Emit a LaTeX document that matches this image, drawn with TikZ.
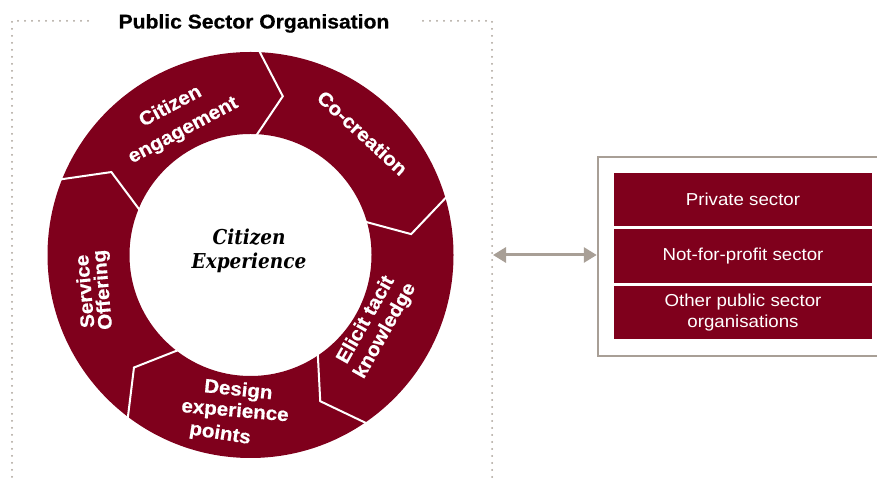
\documentclass[tikz,border=0pt]{standalone}
\usepackage{fontspec}
\setsansfont{Liberation Sans}[FakeStretch=1.08]
\newfontfamily\heavysans{Liberation Sans}[FakeStretch=1.06, BoldFeatures={FakeBold=0.6}]
\newfontfamily\cxserif{DejaVu Serif}[FakeStretch=0.9]
\usetikzlibrary{arrows.meta}
\definecolor{pwcred}{RGB}{127,0,28}
\definecolor{taupe}{RGB}{168,159,150}
\begin{document}
\begin{tikzpicture}[x=1pt,y=1pt,
  ringtxt/.style={text=white, font=\heavysans\bfseries\fontsize{19.4}{22}\selectfont, inner sep=0pt, align=center},
  sepline/.style={draw=white, line width=2pt, line join=miter},
  frameline/.style={draw=taupe, line width=2pt, line cap=round, dash pattern=on 0pt off 7pt},
  sectorbox/.style={fill=pwcred, text=white, minimum width=258pt, minimum height=53pt, inner sep=0pt,
    font=\sffamily\fontsize{17.3}{20.5}\selectfont, align=center},
  partnerbox/.style={draw=taupe, line width=2.5pt, minimum width=292pt, minimum height=199pt, inner sep=0pt},
  twoway/.style={draw=taupe, line width=3pt, {Triangle[length=13pt,width=15pt]}-{Triangle[length=13pt,width=15pt]}},
  titletxt/.style={font=\heavysans\bfseries\fontsize{19.9}{22}\selectfont, text=black, inner sep=0pt},
  centertxt/.style={font=\cxserif\bfseries\itshape\fontsize{20.5}{24}\selectfont, align=center, inner sep=0pt}
]
\path[use as bounding box] (0,0) rectangle (877,478);

% dotted frame of the public sector organisation
\draw[frameline] (88,457) -- (12,457) -- (12,-4);
\draw[frameline] (423,457) -- (492,457) -- (492,-4);
\node[titletxt, anchor=base] (title) at (254,449.5) {Public Sector Organisation};

% ring
\begin{scope}[shift={(250.5pt,223pt)}]
  \fill[pwcred, even odd rule] (0,0) circle (203pt) (0,0) circle (121pt);
  \foreach \s in {88,16.9,-55,-126.5,158.7}{
    \draw[sepline] (\s:207pt) -- ({\s-9.5}:162pt) -- (\s:117pt);
  }
\end{scope}

% ring labels
\node[ringtxt, rotate=28, font=\heavysans\bfseries\fontsize{19.4}{27}\selectfont] (ce) at (177,359.3) {Citizen\\engagement};
\node[ringtxt, rotate=-42.6] (co) at (362.5,345) {Co-creation};
\node[ringtxt, rotate=60.5, font=\heavysans\bfseries\fontsize{19.4}{22}\selectfont] (el) at (375.8,152.5) {Elicit tacit\\knowledge};
\node[ringtxt, rotate=-6] (de1) at (238.3,87.2) {Design};
\node[ringtxt, rotate=-5] (de2) at (235,66.3) {experience};
\node[ringtxt, rotate=-9] (de3) at (220,43.8) {points};
\node[ringtxt, rotate=95, font=\heavysans\bfseries\fontsize{19.4}{17.5}\selectfont] (so) at (95,187.5) {Service\\Offering};

\node[centertxt] (cx) at (249,227) {Citizen\\Experience};

% partner box
\node[partnerbox] (partners) at (744,221.5) {};
\node[sectorbox] (priv) at (743,278.5) {Private sector};
\node[sectorbox, minimum height=54pt] (nfp) at (743,222) {Not-for-profit sector};
\node[sectorbox] (oth) at (743,165.5) {Other public sector\\organisations};

\coordinate (frameR) at (493,223);
\draw[twoway] (frameR) -- (frameR -| partners.west);
\end{tikzpicture}
\end{document}
